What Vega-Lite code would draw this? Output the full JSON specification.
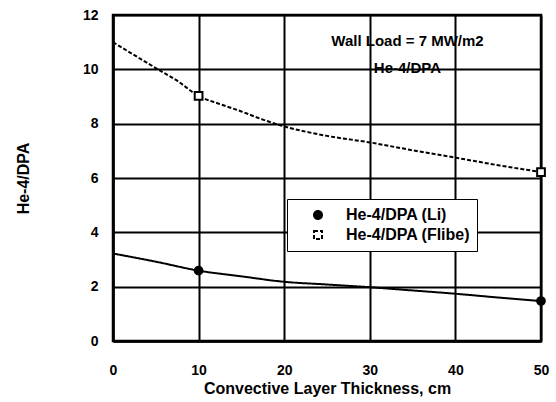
{
  "$schema": "https://vega.github.io/schema/vega-lite/v6.json",
  "width": 428,
  "height": 326,
  "autosize": {"type": "none"},
  "padding": {"left": 113, "top": 15, "right": 15, "bottom": 61},
  "background": "white",
  "config": {
    "font": "Liberation Sans",
    "view": {"stroke": "black", "strokeWidth": 2.5},
    "axis": {"labelColor": "black", "titleColor": "black", "labelFont": "Liberation Sans", "titleFont": "Liberation Sans"}
  },
  "datasets": {
    "curves": [
      {"series": "He-4/DPA (Flibe)", "x": 0, "y": 11.0},
      {"series": "He-4/DPA (Flibe)", "x": 3.5, "y": 10.33},
      {"series": "He-4/DPA (Flibe)", "x": 5.3, "y": 9.99},
      {"series": "He-4/DPA (Flibe)", "x": 7.4, "y": 9.6},
      {"series": "He-4/DPA (Flibe)", "x": 10, "y": 9.02},
      {"series": "He-4/DPA (Flibe)", "x": 12.5, "y": 8.72},
      {"series": "He-4/DPA (Flibe)", "x": 15, "y": 8.45},
      {"series": "He-4/DPA (Flibe)", "x": 17.5, "y": 8.15},
      {"series": "He-4/DPA (Flibe)", "x": 20, "y": 7.9},
      {"series": "He-4/DPA (Flibe)", "x": 25, "y": 7.55},
      {"series": "He-4/DPA (Flibe)", "x": 30, "y": 7.31},
      {"series": "He-4/DPA (Flibe)", "x": 35, "y": 7.02},
      {"series": "He-4/DPA (Flibe)", "x": 40, "y": 6.75},
      {"series": "He-4/DPA (Flibe)", "x": 45, "y": 6.47},
      {"series": "He-4/DPA (Flibe)", "x": 50, "y": 6.22},
      {"series": "He-4/DPA (Li)", "x": 0, "y": 3.22},
      {"series": "He-4/DPA (Li)", "x": 5, "y": 2.92},
      {"series": "He-4/DPA (Li)", "x": 10, "y": 2.59},
      {"series": "He-4/DPA (Li)", "x": 15, "y": 2.38},
      {"series": "He-4/DPA (Li)", "x": 20, "y": 2.18},
      {"series": "He-4/DPA (Li)", "x": 25, "y": 2.08},
      {"series": "He-4/DPA (Li)", "x": 30, "y": 1.98},
      {"series": "He-4/DPA (Li)", "x": 35, "y": 1.86},
      {"series": "He-4/DPA (Li)", "x": 40, "y": 1.74},
      {"series": "He-4/DPA (Li)", "x": 45, "y": 1.6},
      {"series": "He-4/DPA (Li)", "x": 50, "y": 1.47}
    ],
    "markers": [
      {"series": "He-4/DPA (Li)", "x": 10, "y": 2.59},
      {"series": "He-4/DPA (Li)", "x": 50, "y": 1.47},
      {"series": "He-4/DPA (Flibe)", "x": 10, "y": 9.02},
      {"series": "He-4/DPA (Flibe)", "x": 50, "y": 6.22}
    ],
    "notes": [
      {"label": "Wall Load = 7 MW/m2", "x": 34.4, "y": 11.05},
      {"label": "He-4/DPA", "x": 34.4, "y": 10.05}
    ]
  },
  "layer": [
    {
      "data": {"name": "curves"},
      "mark": {"type": "line", "color": "black", "strokeWidth": 2, "interpolate": "monotone"},
      "encoding": {
        "x": {
          "field": "x", "type": "quantitative",
          "scale": {"domain": [0, 50], "nice": false, "zero": false},
          "axis": {
            "orient": "bottom", "values": [0, 10, 20, 30, 40, 50],
            "grid": true, "gridColor": "black", "gridWidth": 2, "gridOpacity": 1,
            "ticks": false, "tickSize": 0,
            "domain": true, "domainColor": "black", "domainWidth": 2.5,
            "labelFontSize": 14, "labelFontWeight": "bold", "labelPadding": 22, "labelFlush": false,
            "title": "Convective Layer Thickness, cm", "titleFontSize": 16, "titleFontWeight": "bold",
            "titleX": 214, "titleY": 47, "titleBaseline": "middle", "titleAlign": "center"
          }
        },
        "y": {
          "field": "y", "type": "quantitative",
          "scale": {"domain": [0, 12], "nice": false, "zero": false},
          "axis": {
            "orient": "left", "values": [0, 2, 4, 6, 8, 10, 12],
            "grid": true, "gridColor": "black", "gridWidth": 2, "gridOpacity": 1,
            "ticks": false, "tickSize": 0,
            "domain": true, "domainColor": "black", "domainWidth": 2.5,
            "labelFontSize": 14, "labelFontWeight": "bold", "labelPadding": 15, "labelFlush": false,
            "title": "He-4/DPA", "titleFontSize": 16, "titleFontWeight": "bold",
            "titleX": -90, "titleY": 163, "titleAngle": -90, "titleBaseline": "middle", "titleAlign": "center"
          }
        },
        "strokeDash": {
          "field": "series", "type": "nominal",
          "scale": {"domain": ["He-4/DPA (Li)", "He-4/DPA (Flibe)"]},
          "legend": {
            "title": null, "orient": "none", "legendX": 174, "legendY": 184,
            "padding": 6, "strokeColor": "black", "fillColor": "white",
            "labelFont": "Liberation Sans", "labelFontSize": 16, "labelFontWeight": "bold", "labelColor": "black",
            "symbolSize": 64, "clipHeight": 20, "symbolStrokeWidth": 2, "symbolStrokeColor": "black",
            "symbolOffset": 17, "labelOffset": 20, "rowPadding": 0
          }
        }
      }
    },
    {
      "data": {"name": "markers"},
      "mark": {"type": "point", "filled": false, "strokeWidth": 2, "size": 60, "opacity": 1},
      "encoding": {
        "x": {"field": "x", "type": "quantitative"},
        "y": {"field": "y", "type": "quantitative"},
        "shape": {"field": "series", "type": "nominal", "scale": {"domain": ["He-4/DPA (Li)", "He-4/DPA (Flibe)"], "range": ["circle", "square"]}, "legend": null},
        "fill": {"field": "series", "type": "nominal", "scale": {"domain": ["He-4/DPA (Li)", "He-4/DPA (Flibe)"], "range": ["black", "white"]}, "legend": null},
        "stroke": {"value": "black"}
      }
    },
    {
      "data": {"name": "notes"},
      "mark": {"type": "text", "font": "Liberation Sans", "fontSize": 15, "fontWeight": "bold", "color": "black", "align": "center", "baseline": "middle"},
      "encoding": {
        "x": {"field": "x", "type": "quantitative"},
        "y": {"field": "y", "type": "quantitative"},
        "text": {"field": "label"}
      }
    }
  ]
}
